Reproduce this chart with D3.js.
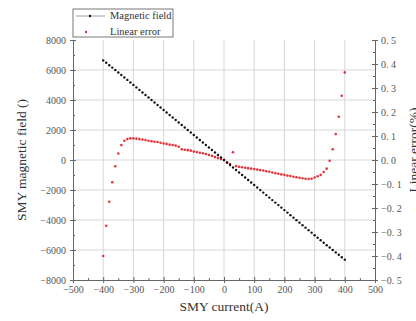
<!DOCTYPE html>
<html>
<head>
<meta charset="utf-8">
<script src="https://cdn.jsdelivr.net/npm/d3@7"></script>
<style>
  body { margin: 0; background: #fff; }
  svg text { font-family: "Liberation Serif", "DejaVu Serif", serif; }
</style>
</head>
<body>
<div id="chart"></div>
<script>
const current = [
  -400, -390, -380, -370, -360, -350, -340, -330, -320, -310,
  -300, -290, -280, -270, -260, -250, -240, -230, -220, -210,
  -200, -190, -180, -170, -160, -150, -140, -130, -120, -110,
  -100, -90, -80, -70, -60, -50, -40, -30, -20, -10,
  0, 10, 20, 30, 40, 50, 60, 70, 80, 90,
  100, 110, 120, 130, 140, 150, 160, 170, 180, 190,
  200, 210, 220, 230, 240, 250, 260, 270, 280, 290,
  300, 310, 320, 330, 340, 350, 360, 370, 380, 390, 400
];

const field = [
  6640, 6482, 6321, 6160, 5998, 5835, 5671, 5505, 5339, 5173,
  5006, 4839, 4672, 4505, 4338, 4171, 4005, 3838, 3671, 3504,
  3338, 3171, 3004, 2837, 2670, 2503, 2336, 2169, 2003, 1836,
  1669, 1502, 1335, 1168, 1002, 835, 668, 501, 334, 167,
  0, -168, -335, -497, -669, -836, -1003, -1170, -1337, -1504,
  -1671, -1838, -2005, -2172, -2339, -2506, -2673, -2840, -3007, -3174,
  -3341, -3508, -3675, -3842, -4009, -4176, -4343, -4510, -4677, -4844,
  -5012, -5179, -5346, -5513, -5679, -5834, -5997, -6160, -6321, -6482, -6643
];

const linearError = [
  -0.400, -0.274, -0.174, -0.093, -0.026, 0.027, 0.062, 0.080, 0.087, 0.090,
  0.090, 0.089, 0.087, 0.085, 0.083, 0.080, 0.078, 0.076, 0.075, 0.072,
  0.069, 0.067, 0.064, 0.062, 0.060, 0.055, 0.045, 0.043, 0.041, 0.039,
  0.035, 0.033, 0.030, 0.028, 0.025, 0.021, 0.017, 0.012, 0.008, 0.004,
  0.000, -0.011, -0.017, 0.032, -0.025, -0.028, -0.030, -0.032, -0.034, -0.036,
  -0.038, -0.040, -0.042, -0.044, -0.047, -0.049, -0.052, -0.055, -0.057, -0.060,
  -0.062, -0.065, -0.067, -0.070, -0.072, -0.074, -0.076, -0.078, -0.079, -0.078,
  -0.073, -0.068, -0.062, -0.050, -0.036, -0.003, 0.045, 0.108, 0.180, 0.268, 0.365
];

const xTicks = [-500, -400, -300, -200, -100, 0, 100, 200, 300, 400, 500];
const xMinorTicks = [-450, -350, -250, -150, -50, 50, 150, 250, 350, 450];
const leftTicks = [-8000, -6000, -4000, -2000, 0, 2000, 4000, 6000, 8000];
const leftMinorTicks = [-7000, -5000, -3000, -1000, 1000, 3000, 5000, 7000];
const rightTicks = [-0.5, -0.4, -0.3, -0.2, -0.1, 0, 0.1, 0.2, 0.3, 0.4, 0.5];
const rightMinorTicks = [-0.45, -0.35, -0.25, -0.15, -0.05, 0.05, 0.15, 0.25, 0.35, 0.45];
const seriesNames = ['Magnetic field', 'Linear error'];

const width = 416, height = 321;
const plot = { left: 73, right: 375, top: 40, bottom: 280 };
const axisColor = '#666';
const labelColor = '#555';

const svg = d3.select('#chart')
  .append('svg')
  .attr('width', width)
  .attr('height', height);

const x = d3.scaleLinear().domain([-500, 500]).range([plot.left, plot.right]);
const yField = d3.scaleLinear().domain([-8000, 8000]).range([plot.bottom, plot.top]);
const yErr = d3.scaleLinear().domain([-0.5, 0.5]).range([plot.bottom, plot.top]);

// Grid
svg.append('g')
  .selectAll('line')
  .data(xTicks.slice(1, -1))
  .join('line')
  .attr('x1', d => x(d)).attr('x2', d => x(d))
  .attr('y1', plot.top).attr('y2', plot.bottom)
  .attr('stroke', '#d4d4d4').attr('stroke-width', 0.9);

svg.append('g')
  .selectAll('line')
  .data(leftTicks.slice(1, -1))
  .join('line')
  .attr('x1', plot.left).attr('x2', plot.right)
  .attr('y1', d => yField(d)).attr('y2', d => yField(d))
  .attr('stroke', '#d4d4d4').attr('stroke-width', 0.9);

// Axes
function styleAxis(g) {
  g.select('.domain').attr('stroke', axisColor);
  g.selectAll('.tick line').attr('stroke', axisColor);
  g.selectAll('.tick text')
    .attr('fill', labelColor)
    .style('font-size', '10px');
}

const fmtInt = d3.format('d');
const fmtErr = d => d3.format('.1f')(d).replace('.', '. ');

svg.append('g')
  .attr('transform', `translate(0,${plot.bottom})`)
  .call(d3.axisBottom(x).tickValues(xTicks).tickSize(3).tickSizeOuter(0).tickPadding(3).tickFormat(fmtInt))
  .call(styleAxis)
  .call(g => g.selectAll('.tick line').attr('y1', -3));

svg.append('g')
  .attr('transform', `translate(0,${plot.bottom})`)
  .call(d3.axisBottom(x).tickValues(xMinorTicks).tickSize(-2).tickFormat(''))
  .call(styleAxis)
  .call(g => g.select('.domain').remove());

svg.append('g')
  .attr('transform', `translate(${plot.left},0)`)
  .call(d3.axisLeft(yField).tickValues(leftTicks).tickSize(3).tickSizeOuter(0).tickPadding(4).tickFormat(fmtInt))
  .call(styleAxis)
  .call(g => g.selectAll('.tick line').attr('x1', 3));

svg.append('g')
  .attr('transform', `translate(${plot.left},0)`)
  .call(d3.axisLeft(yField).tickValues(leftMinorTicks).tickSize(-2).tickFormat(''))
  .call(styleAxis)
  .call(g => g.select('.domain').remove());

svg.append('g')
  .attr('transform', `translate(${plot.right},0)`)
  .call(d3.axisRight(yErr).tickValues(rightTicks).tickSize(3).tickSizeOuter(0).tickPadding(3).tickFormat(fmtErr))
  .call(styleAxis)
  .call(g => g.selectAll('.tick line').attr('x1', -3));

svg.append('g')
  .attr('transform', `translate(${plot.right},0)`)
  .call(d3.axisRight(yErr).tickValues(rightMinorTicks).tickSize(-2).tickFormat(''))
  .call(styleAxis)
  .call(g => g.select('.domain').remove());

// Series
svg.append('g')
  .selectAll('circle')
  .data(current)
  .join('circle')
  .attr('cx', d => x(d))
  .attr('cy', (d, i) => yErr(linearError[i]))
  .attr('r', 1.3)
  .attr('fill', '#e3343c');

svg.append('g')
  .selectAll('circle')
  .data(current)
  .join('circle')
  .attr('cx', d => x(d))
  .attr('cy', (d, i) => yField(field[i]))
  .attr('r', 1.2)
  .attr('fill', '#111');

// Titles
svg.append('text')
  .attr('x', (plot.left + plot.right) / 2)
  .attr('y', 311)
  .attr('text-anchor', 'middle')
  .attr('fill', '#333')
  .style('font-size', '13.5px')
  .text('SMY current(A)');

svg.append('text')
  .attr('transform', `translate(26,${(plot.top + plot.bottom) / 2}) rotate(-90)`)
  .attr('text-anchor', 'middle')
  .attr('fill', '#333')
  .style('font-size', '13.5px')
  .text('SMY magnetic field ()');

// the reference crops this title at the right edge
svg.append('text')
  .attr('transform', 'translate(418,150) rotate(-90)')
  .attr('text-anchor', 'middle')
  .attr('fill', '#333')
  .style('font-size', '13.5px')
  .text('Linear error(%)');

// Legend
const legend = svg.append('g');
legend.append('rect')
  .attr('x', plot.left).attr('y', 9)
  .attr('width', 100).attr('height', 28)
  .attr('fill', '#fff')
  .attr('stroke', '#555').attr('stroke-width', 0.8);

legend.append('line')
  .attr('x1', plot.left + 3).attr('x2', plot.left + 32)
  .attr('y1', 16).attr('y2', 16)
  .attr('stroke', '#888').attr('stroke-width', 0.8);
legend.append('circle')
  .attr('cx', plot.left + 17).attr('cy', 16).attr('r', 1.2).attr('fill', '#111');
legend.append('circle')
  .attr('cx', plot.left + 13).attr('cy', 32).attr('r', 1.2).attr('fill', '#e3343c');

legend.selectAll('text')
  .data(seriesNames)
  .join('text')
  .attr('x', plot.left + 37)
  .attr('y', (d, i) => 19 + i * 15.5)
  .attr('fill', '#333')
  .style('font-size', '10.5px')
  .text(d => d);
</script>
</body>
</html>
